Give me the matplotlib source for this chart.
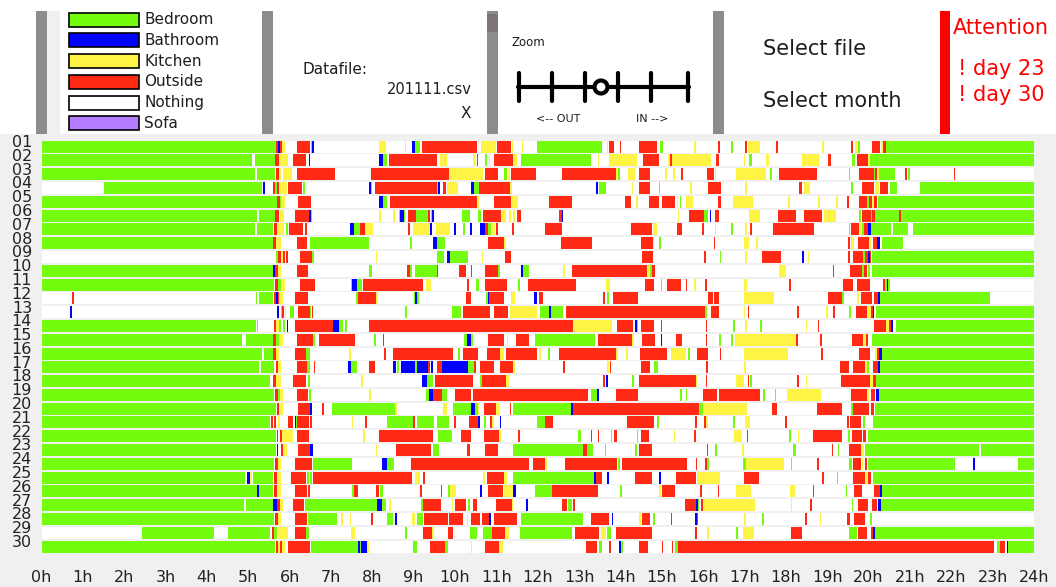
import matplotlib
matplotlib.use("Agg")
import matplotlib.pyplot as plt
import matplotlib.transforms as mtransforms
from matplotlib.patches import Rectangle, Circle

# rooms shown in the legend, in order
rooms = ["Bedroom", "Bathroom", "Kitchen", "Outside", "Nothing", "Sofa"]
room_colors = ["#74fc0f", "#0000ff", "#fff445", "#ff2914", "#ffffff", "#b47cff"]
codes = {"B": "Bedroom", "T": "Bathroom", "K": "Kitchen", "O": "Outside", "N": "Nothing", "S": "Sofa"}

days = ["%02d" % i for i in range(1, 31)]
hours = list(range(25))
hour_labels = ["%dh" % h for h in hours]
datafile = "201111.csv"
attention_days = [23, 30]

# (start hour, end hour, room code) per day; gaps are "Nothing"
d01 = [(0,5.67,'B'),(5.67,5.72,'O'),(5.72,5.76,'T'),(5.76,5.82,'O'),(5.82,5.9,'K'),(6.17,6.5,'O'),(6.51,6.53,'B'),(6.53,6.6,'T'),
       (8.17,8.33,'K'),(8.78,8.82,'K'),(8.96,9.02,'T'),(9.02,9.15,'B'),(9.19,10.52,'O'),(10.62,10.99,'K'),(11.02,11.36,'O'),
       (11.37,11.4,'K'),(11.62,11.65,'K'),(11.99,13.55,'B'),(13.67,13.71,'K'),(13.72,13.85,'O'),(13.98,14.02,'O'),(14.46,14.89,'O'),
       (14.96,15.02,'B'),(15.79,15.83,'K'),(16.35,16.41,'O'),(16.68,16.72,'B'),(17.02,17.06,'O'),(17.09,17.38,'K'),(17.76,17.8,'O'),
       (18.88,18.92,'K'),(19.58,19.62,'O'),(19.68,19.74,'K'),(19.74,19.8,'B'),(20.08,20.28,'O'),(20.3,20.35,'K'),(20.35,20.42,'O'),
       (20.42,24,'B')]
d02 = [(0,5.1,'B'),(5.16,5.65,'B'),(5.65,5.75,'O'),(5.75,5.96,'K'),(6.09,6.4,'O'),(6.46,6.49,'T'),(8.15,8.27,'T'),(8.27,8.36,'B'),
       (8.4,9.56,'O'),(9.64,9.8,'K'),(10.43,10.51,'K'),(10.52,10.55,'O'),(10.73,10.78,'B'),(10.82,10.85,'K'),(10.93,11.4,'O'),
       (11.4,11.51,'K'),(11.59,13.28,'B'),(13.45,13.48,'K'),(13.72,14.39,'K'),(14.55,14.92,'O'),(15.15,15.2,'K'),(15.2,15.25,'O'),
       (15.25,16.18,'K'),(16.31,16.38,'O'),(16.98,17.02,'K'),(17.11,17.17,'B'),(17.53,17.58,'K'),(18.38,18.81,'K'),(19.01,19.08,'O'),
       (19.6,19.66,'B'),(19.71,19.99,'O'),(19.99,20.04,'K'),(20.04,24,'B')]
d03 = [(0,5.16,'B'),(5.2,5.65,'B'),(5.68,5.74,'O'),(5.74,5.78,'K'),(5.85,6.06,'K'),(6.17,7.1,'O'),(7.96,9.86,'O'),(9.86,10.68,'K'),
       (10.73,11.05,'O'),(11.19,11.25,'B'),(11.28,11.32,'K'),(11.36,11.95,'O'),(12.59,13.89,'O'),(13.89,13.94,'K'),(13.94,14.0,'B'),
       (14.19,14.35,'K'),(14.46,14.72,'O'),(15.08,15.12,'K'),(15.28,15.32,'K'),(15.46,15.52,'O'),(16.09,16.25,'O'),(16.28,16.32,'K'),
       (16.79,17.51,'K'),(17.62,17.66,'B'),(17.84,18.75,'O'),(19.52,19.55,'B'),(19.78,20.12,'O'),(20.12,20.16,'B'),(20.16,20.2,'O'),
       (20.2,20.26,'K'),(20.26,20.64,'B'),(20.88,20.92,'O'),(20.96,21.0,'B'),(22.06,22.1,'O')]
d04 = [(1.5,5.33,'B'),(5.35,5.4,'T'),(5.6,5.65,'O'),(5.65,5.7,'B'),(5.7,5.75,'O'),(5.75,5.94,'K'),(5.96,6.29,'O'),(6.32,6.37,'B'),
       (7.93,7.96,'T'),(7.96,7.99,'B'),(8.06,9.56,'O'),(9.56,9.6,'B'),(9.6,9.64,'T'),(9.72,9.78,'O'),(9.8,10.06,'K'),(10.39,10.46,'T'),
       (10.46,10.59,'B'),(10.59,11.33,'O'),(11.33,11.37,'K'),(13.42,13.46,'T'),(13.49,13.65,'B'),(14.27,14.31,'K'),(14.46,14.72,'O'),
       (14.92,14.96,'B'),(15.69,15.73,'K'),(16.12,16.43,'O'),(17.01,17.05,'K'),(18.32,18.38,'O'),(18.45,18.58,'K'),(19.58,19.62,'B'),
       (19.85,20.12,'O'),(20.15,20.25,'K'),(20.28,20.48,'O'),(20.51,20.68,'B'),(21.24,24,'B')]
d05 = [(0,5.7,'B'),(5.7,5.76,'O'),(5.76,5.8,'B'),(5.8,5.9,'K'),(6.2,6.52,'O'),(8.15,8.27,'T'),(8.27,8.36,'B'),(8.43,10.52,'O'),
       (10.54,10.58,'K'),(10.93,11.36,'O'),(11.36,11.52,'K'),(12.28,12.82,'O'),(14.12,14.25,'O'),(14.38,14.42,'K'),(14.69,14.92,'O'),
       (15.01,15.32,'O'),(15.36,15.4,'K'),(15.44,15.47,'B'),(15.59,15.76,'K'),(16.35,16.42,'O'),(16.72,17.21,'K'),(18.05,18.09,'K'),
       (18.78,18.82,'K'),(19.21,19.25,'K'),(19.49,19.52,'O'),(19.78,19.97,'O'),(19.97,20.02,'B'),(20.02,20.08,'O'),(20.08,20.12,'K'),
       (20.12,20.2,'O'),(20.22,24,'B')]
d06 = [(0,5.22,'B'),(5.27,5.65,'B'),(5.65,5.75,'O'),(5.77,5.86,'K'),(6.13,6.48,'O'),(6.48,6.51,'T'),(6.51,6.55,'B'),(8.17,8.21,'K'),
       (8.51,8.55,'K'),(8.64,8.68,'B'),(8.68,8.76,'T'),(8.76,8.8,'B'),(8.86,9.06,'O'),(9.06,9.35,'B'),(9.35,9.39,'O'),(9.41,9.45,'B'),
       (9.45,9.49,'T'),(10.17,10.36,'B'),(10.56,10.62,'B'),(10.68,11.11,'O'),(11.11,11.23,'K'),(11.31,11.35,'K'),(11.4,11.44,'K'),
       (11.49,11.59,'O'),(12.52,12.58,'O'),(12.58,12.62,'T'),(15.38,15.42,'K'),(15.65,16.02,'O'),(16.02,16.06,'B'),(16.08,16.12,'B'),
       (16.16,16.2,'T'),(16.29,16.38,'O'),(17.1,17.38,'K'),(17.82,18.25,'O'),(18.45,18.88,'O'),(18.91,19.21,'K'),(19.78,19.82,'B'),
       (19.85,20.05,'O'),(20.05,20.09,'B'),(20.09,20.15,'O'),(20.16,20.74,'B'),(20.74,20.78,'O'),(20.78,24,'B')]
d07 = [(0,5.16,'B'),(5.2,5.59,'B'),(5.63,5.7,'O'),(5.7,5.86,'K'),(5.92,5.96,'B'),(5.99,6.33,'O'),(6.38,6.42,'O'),(7.46,7.56,'T'),
       (7.56,7.7,'B'),(7.7,7.83,'O'),(7.83,8.01,'K'),(8.86,8.9,'O'),(8.99,9.4,'K'),(9.4,9.44,'T'),(9.53,9.88,'K'),(9.98,10.02,'T'),
       (10.2,10.24,'B'),(10.37,10.41,'T'),(10.6,10.73,'T'),(10.73,10.8,'O'),(10.8,10.86,'B'),(10.86,10.97,'K'),(10.99,11.03,'O'),
       (11.38,11.42,'O'),(12.18,12.58,'O'),(14.26,14.76,'O'),(14.78,14.88,'K'),(15.36,15.48,'O'),(15.98,16.02,'O'),(16.28,16.32,'K'),
       (16.68,16.72,'B'),(17.01,17.05,'K'),(17.14,17.18,'O'),(17.68,18.68,'O'),(19.52,19.56,'B'),(19.58,19.78,'O'),(19.78,19.84,'K'),
       (19.84,19.88,'B'),(19.88,19.98,'O'),(19.98,20.05,'T'),(20.05,20.54,'B'),(20.59,20.95,'B'),(21.08,24,'B')]
d08 = [(0,5.6,'B'),(5.6,5.68,'O'),(5.68,5.8,'K'),(6.17,6.43,'O'),(6.49,7.93,'B'),(8.91,8.95,'B'),(9.47,9.57,'T'),(9.57,9.75,'B'),
       (10.79,11.18,'O'),(11.18,11.23,'K'),(12.56,13.31,'O'),(14.49,14.78,'O'),(14.78,14.82,'K'),(14.94,14.98,'B'),(16.25,16.29,'O'),
       (16.99,17.1,'K'),(17.28,17.32,'K'),(19.51,19.55,'O'),(19.58,19.64,'K'),(19.75,20.0,'O'),(20.02,20.06,'K'),(20.1,20.2,'O'),
       (20.2,20.28,'T'),(20.32,20.84,'B')]
d09 = [(5.67,5.72,'B'),(5.72,5.8,'O'),(5.8,5.84,'K'),(5.84,5.9,'O'),(5.92,5.95,'O'),(6.24,6.53,'O'),(6.55,6.59,'B'),(8.08,8.12,'K'),
       (9.56,9.74,'B'),(9.81,9.89,'T'),(9.89,10.32,'B'),(10.64,10.68,'K'),(11.22,11.36,'O'),(14.52,14.78,'O'),(16.03,16.07,'O'),
       (16.4,16.44,'B'),(17.01,17.05,'K'),(17.42,17.88,'O'),(18.4,18.44,'T'),(18.53,18.57,'K'),(19.51,19.55,'O'),(19.62,19.87,'O'),
       (19.87,19.92,'B'),(19.92,19.98,'O'),(19.98,20.03,'T'),(20.03,20.06,'O'),(20.08,24,'B')]
d10 = [(0,5.6,'B'),(5.6,5.64,'T'),(5.65,5.72,'O'),(5.72,5.8,'K'),(6.17,6.45,'O'),(7.93,7.99,'B'),(8.83,8.9,'O'),(8.9,8.97,'B'),
       (9.02,9.56,'B'),(9.57,9.6,'O'),(10.09,10.27,'O'),(10.38,10.42,'O'),(10.73,11.05,'O'),(11.05,11.09,'B'),(11.59,11.65,'T'),
       (11.65,11.78,'B'),(12.61,12.65,'K'),(12.82,14.65,'O'),(14.65,14.72,'K'),(14.72,14.76,'B'),(14.76,14.83,'O'),(17.83,18.0,'K'),
       (19.13,19.17,'O'),(19.55,19.84,'O'),(19.84,19.9,'B'),(19.9,19.96,'O'),(19.98,20.03,'B'),(20.08,24,'B')]
d11 = [(0,5.62,'B'),(5.65,5.72,'O'),(5.72,5.78,'B'),(5.78,5.88,'K'),(6.24,6.62,'O'),(7.49,7.51,'B'),(7.51,7.62,'T'),(7.62,7.74,'B'),
       (7.77,9.22,'O'),(9.3,9.41,'K'),(10.3,10.34,'O'),(10.5,10.59,'B'),(10.73,11.25,'O'),(11.53,11.57,'B'),(11.76,12.92,'O'),
       (13.65,13.75,'K'),(14.6,14.81,'O'),(14.97,15.01,'B'),(15.12,15.46,'O'),(15.58,15.62,'O'),(15.78,15.82,'K'),(16.05,16.09,'O'),
       (16.98,17.05,'K'),(18.08,18.12,'O'),(19.38,19.62,'O'),(19.72,20.04,'O'),(20.35,20.4,'O'),(20.4,20.44,'B'),(20.44,20.48,'T'),
       (20.48,20.52,'B')]
d12 = [(0.74,0.78,'O'),(5.18,5.22,'B'),(5.27,5.59,'B'),(5.62,5.67,'O'),(5.67,5.71,'T'),(5.71,5.74,'O'),(5.74,5.84,'K'),(6.13,6.45,'O'),
       (7.6,7.66,'B'),(7.66,8.1,'O'),(8.1,8.14,'K'),(9.0,9.04,'B'),(9.04,9.09,'T'),(9.09,9.12,'B'),(10.27,10.38,'O'),(10.76,10.8,'B'),
       (10.8,10.83,'T'),(10.83,11.18,'O'),(11.35,11.45,'K'),(11.91,11.98,'T'),(12.02,12.12,'O'),(13.57,13.63,'O'),(13.68,13.72,'B'),
       (13.82,14.42,'O'),(16.12,16.23,'O'),(16.25,16.38,'O'),(16.99,17.71,'K'),(19.01,19.35,'O'),(19.35,19.4,'B'),(19.73,19.78,'K'),
       (19.81,20.08,'O'),(20.14,20.22,'O'),(20.22,20.28,'T'),(20.28,22.94,'B')]
d13 = [(0.69,0.73,'T'),(5.7,5.75,'T'),(5.78,5.82,'B'),(5.82,5.86,'O'),(5.88,5.92,'K'),(6.0,6.11,'B'),(6.2,6.49,'O'),(6.49,6.52,'B'),
       (6.53,6.57,'O'),(8.8,8.84,'B'),(9.93,10.15,'B'),(10.19,10.85,'O'),(10.93,11.29,'O'),(11.33,11.99,'K'),(12.06,12.26,'B'),
       (12.28,12.33,'T'),(12.33,12.62,'B'),(12.68,16.05,'O'),(16.05,16.1,'B'),(16.19,16.38,'O'),(16.98,17.02,'K'),(17.08,17.12,'O'),
       (18.28,18.32,'O'),(18.98,19.02,'K'),(19.14,19.18,'O'),(19.53,19.57,'B'),(19.69,19.97,'O'),(19.97,20.05,'K'),(20.05,20.1,'O'),
       (20.1,20.14,'T'),(20.18,24,'B')]
d14 = [(0,5.18,'B'),(5.2,5.24,'B'),(5.62,5.68,'O'),(5.68,5.74,'K'),(5.74,5.8,'B'),(5.85,5.88,'B'),(5.93,5.97,'T'),(6.13,7.06,'O'),
       (7.06,7.2,'T'),(7.2,7.3,'B'),(7.35,7.39,'B'),(7.93,12.85,'O'),(12.85,13.79,'K'),(13.91,14.31,'O'),(14.35,14.39,'T'),
       (14.39,14.43,'B'),(14.49,14.81,'O'),(14.97,15.01,'O'),(16.06,16.1,'O'),(16.73,16.77,'B'),(17.01,17.05,'K'),(17.38,17.42,'B'),
       (18.48,18.52,'K'),(18.77,18.81,'O'),(20.12,20.42,'O'),(20.42,20.5,'K'),(20.5,20.55,'O'),(20.55,20.6,'T'),(20.66,24,'B')]
d15 = [(0,4.85,'B'),(4.94,5.6,'B'),(5.6,5.68,'O'),(5.68,5.74,'B'),(5.74,5.84,'K'),(6.17,6.56,'O'),(6.56,6.62,'B'),(6.7,7.58,'O'),
       (8.05,8.09,'B'),(8.25,8.29,'O'),(10.22,10.28,'B'),(10.28,10.38,'T'),(10.38,10.44,'B'),(10.79,11.18,'O'),(11.25,11.29,'K'),
       (11.47,11.78,'O'),(11.93,13.39,'B'),(13.45,14.29,'O'),(14.29,14.33,'K'),(14.53,14.84,'O'),(14.97,15.01,'T'),(15.34,15.48,'O'),
       (16.06,16.1,'O'),(16.38,16.44,'B'),(16.68,16.72,'B'),(16.76,18.25,'K'),(18.25,18.29,'O'),(18.83,18.88,'O'),(19.6,19.87,'O'),
       (19.87,19.93,'K'),(19.93,19.99,'O'),(20.08,24,'B')]
d16 = [(0,5.33,'B'),(5.37,5.59,'B'),(5.6,5.68,'O'),(5.68,5.75,'K'),(6.13,6.4,'O'),(6.4,6.5,'B'),(7.44,7.48,'K'),(8.29,8.33,'O'),
       (8.49,9.96,'O'),(10.08,10.12,'B'),(10.19,10.56,'O'),(10.77,11.09,'O'),(11.09,11.19,'K'),(11.23,11.99,'O'),(12.03,12.07,'K'),
       (12.25,12.29,'B'),(12.52,13.89,'O'),(13.89,13.93,'K'),(14.14,14.18,'K'),(14.47,15.12,'O'),(15.22,15.58,'K'),(15.64,15.68,'B'),
       (15.85,16.11,'O'),(16.4,16.44,'O'),(16.99,18.04,'K'),(18.85,18.9,'O'),(19.78,20.04,'O'),(20.16,20.2,'K'),(20.2,20.26,'O'),
       (20.26,20.33,'T'),(20.33,24,'B')]
d17 = [(0,5.26,'B'),(5.3,5.62,'B'),(5.66,5.72,'O'),(5.72,5.8,'K'),(6.17,6.43,'O'),(6.43,6.49,'B'),(6.58,6.62,'O'),(7.42,7.49,'T'),
       (7.49,7.64,'B'),(7.93,8.07,'O'),(8.49,8.57,'T'),(8.6,8.65,'B'),(8.69,9.03,'T'),(9.03,9.07,'B'),(9.09,9.35,'T'),(9.35,9.4,'O'),
       (9.42,9.46,'T'),(9.56,9.68,'O'),(9.68,10.32,'T'),(10.32,10.46,'B'),(10.46,10.5,'O'),(10.6,10.93,'O'),(11.09,11.4,'O'),
       (11.4,11.44,'K'),(12.61,12.65,'O'),(13.68,13.72,'K'),(13.74,13.78,'O'),(14.49,14.72,'O'),(14.81,14.9,'B'),(16.08,16.12,'O'),
       (16.98,17.03,'K'),(19.3,19.52,'O'),(19.62,19.91,'O'),(19.91,19.96,'K'),(19.96,20.02,'B'),(20.1,20.22,'O'),(20.22,20.28,'T'),
       (20.28,24,'B')]
d18 = [(0,5.53,'B'),(5.6,5.68,'O'),(5.68,5.8,'K'),(6.09,6.4,'O'),(6.45,6.49,'B'),(7.72,7.78,'K'),(9.19,9.31,'T'),(9.31,9.46,'B'),
       (9.52,10.43,'O'),(10.6,10.64,'B'),(10.65,11.23,'O'),(11.23,11.31,'K'),(13.58,13.62,'O'),(13.66,13.7,'T'),(14.28,14.32,'B'),
       (14.46,15.82,'O'),(15.82,15.86,'K'),(16.06,16.1,'O'),(16.79,16.99,'K'),(17.08,17.12,'O'),(17.14,17.18,'B'),(18.28,18.32,'O'),
       (18.48,18.52,'K'),(19.33,19.71,'O'),(19.73,20.04,'O'),(20.04,20.1,'K'),(20.1,20.18,'O'),(20.18,24,'B')]
d19 = [(0,5.62,'B'),(5.65,5.72,'O'),(5.72,5.76,'B'),(5.76,5.84,'K'),(6.17,6.45,'O'),(6.47,6.51,'B'),(7.93,7.97,'K'),(9.3,9.36,'B'),
       (9.36,9.46,'T'),(9.46,9.69,'O'),(9.69,9.8,'B'),(9.99,10.38,'O'),(10.43,13.22,'O'),(13.28,13.44,'B'),(13.44,13.47,'T'),
       (13.89,14.42,'O'),(15.45,15.49,'B'),(15.58,15.62,'B'),(15.99,16.33,'O'),(16.38,17.38,'O'),(17.45,17.49,'B'),(17.73,17.77,'B'),
       (18.02,18.85,'K'),(19.58,19.97,'O'),(19.97,20.02,'K'),(20.05,20.15,'O'),(20.17,20.25,'T'),(20.25,24,'B')]
d20 = [(0,5.67,'B'),(5.69,5.75,'O'),(5.75,5.83,'K'),(6.2,6.49,'O'),(6.49,6.55,'T'),(6.78,6.82,'O'),(7.02,8.55,'B'),(8.55,8.59,'K'),
       (9.7,9.81,'K'),(9.96,10.39,'B'),(10.39,10.49,'T'),(10.49,10.55,'B'),(10.55,10.58,'K'),(10.69,10.99,'O'),(10.99,11.09,'K'),
       (11.32,11.36,'O'),(11.41,12.8,'B'),(12.8,12.86,'T'),(12.86,15.91,'O'),(15.91,16.0,'B'),(16.0,17.06,'K'),(17.66,17.78,'O'),
       (18.75,19.35,'O'),(19.58,19.63,'B'),(19.63,20.02,'O'),(20.07,20.13,'O'),(20.16,24,'B')]
d21 = [(0,5.53,'B'),(5.55,5.59,'O'),(5.63,5.68,'O'),(5.72,5.76,'K'),(5.97,6.09,'O'),(6.12,6.15,'T'),(6.15,6.19,'B'),(6.19,6.48,'O'),
       (6.5,6.54,'O'),(7.5,7.54,'K'),(7.82,7.86,'O'),(8.36,8.99,'B'),(8.99,9.03,'O'),(9.09,9.48,'B'),(9.56,9.86,'B'),(9.98,10.02,'O'),
       (10.33,10.56,'O'),(10.56,10.6,'T'),(10.71,10.75,'B'),(10.84,10.9,'O'),(10.9,10.94,'K'),(11.08,11.12,'T'),(11.99,12.18,'B'),
       (12.18,12.38,'O'),(14.15,14.82,'O'),(14.89,14.93,'B'),(15.81,15.85,'O'),(16.03,16.07,'O'),(16.07,16.11,'K'),(16.73,16.77,'B'),
       (17.0,17.13,'K'),(17.98,18.02,'O'),(19.48,19.52,'O'),(19.54,19.81,'O'),(19.86,19.91,'B'),(20.1,24,'B')]
d22 = [(0,5.67,'B'),(5.69,5.73,'O'),(5.77,5.82,'O'),(5.82,6.07,'K'),(6.19,6.46,'O'),(7.78,7.82,'K'),(8.15,9.46,'O'),(9.6,9.93,'B'),
       (10.14,10.39,'O'),(10.69,11.07,'O'),(11.07,11.11,'K'),(11.53,11.57,'O'),(12.98,13.04,'B'),(13.29,13.32,'O'),(13.45,13.48,'O'),
       (13.77,13.8,'B'),(13.85,13.91,'O'),(14.39,14.43,'B'),(14.49,14.68,'O'),(15.3,15.33,'K'),(15.79,15.82,'O'),(16.75,16.93,'K'),
       (17.05,17.09,'O'),(18.08,18.12,'B'),(18.29,18.32,'K'),(18.65,19.35,'O'),(19.51,19.55,'B'),(19.59,19.84,'O'),(19.87,19.94,'O'),
       (19.98,24,'B')]
d23 = [(0,5.68,'B'),(5.69,5.72,'T'),(5.78,5.84,'O'),(5.84,5.93,'K'),(6.2,6.49,'O'),(6.49,6.56,'T'),(8.09,8.12,'K'),(8.57,9.42,'O'),
       (9.46,9.61,'B'),(10.3,10.35,'O'),(10.73,11.05,'O'),(11.4,13.09,'B'),(13.09,13.18,'O'),(13.2,13.34,'B'),(13.62,13.65,'B'),
       (14.35,14.39,'B'),(14.46,14.76,'O'),(16.09,16.12,'O'),(16.29,16.33,'B'),(16.95,16.98,'K'),(18.18,18.24,'B'),(19.11,19.15,'O'),
       (19.25,19.28,'B'),(19.52,19.81,'O'),(19.81,19.88,'K'),(19.92,22.68,'B'),(22.71,24,'B')]
d24 = [(0,5.62,'B'),(5.65,5.72,'O'),(5.72,5.8,'K'),(6.13,6.53,'O'),(6.56,7.5,'B'),(8.23,8.35,'T'),(8.35,8.52,'B'),(8.93,11.79,'O'),
       (11.89,12.18,'O'),(12.18,12.22,'K'),(12.66,13.91,'O'),(13.95,13.99,'B'),(14.03,15.62,'O'),(15.82,15.86,'O'),(16.05,16.1,'O'),
       (16.1,16.15,'B'),(16.96,17.03,'B'),(17.03,17.96,'K'),(18.12,18.16,'B'),(18.75,18.79,'O'),(19.52,19.6,'B'),(19.62,19.81,'O'),
       (19.83,19.87,'K'),(19.91,19.97,'O'),(19.98,22.1,'B'),(22.53,22.58,'T'),(23.61,24,'B')]
d25 = [(0,4.93,'B'),(4.96,5.03,'T'),(5.05,5.08,'K'),(5.11,5.59,'B'),(5.62,5.7,'O'),(5.7,5.8,'K'),(6.03,6.4,'O'),(6.43,6.47,'B'),
       (6.5,6.54,'B'),(6.56,8.95,'O'),(9.02,9.15,'K'),(9.23,9.27,'O'),(10.68,10.72,'K'),(10.77,11.18,'O'),(11.18,11.25,'K'),
       (11.41,13.36,'B'),(13.36,13.4,'T'),(13.41,13.55,'O'),(13.68,13.72,'T'),(14.35,14.76,'O'),(14.93,14.97,'T'),(15.34,15.82,'O'),
       (15.86,16.41,'K'),(16.99,17.36,'O'),(18.88,18.92,'O'),(19.23,19.26,'B'),(19.62,19.91,'O'),(19.91,19.98,'K'),(19.98,20.07,'O'),
       (20.1,24,'B')]
d26 = [(0,5.22,'B'),(5.22,5.27,'T'),(5.27,5.6,'B'),(5.62,5.7,'O'),(5.7,5.78,'K'),(6.13,6.43,'O'),(6.45,6.49,'O'),(7.5,7.56,'B'),
       (7.56,7.66,'O'),(8.09,8.17,'O'),(8.19,8.25,'B'),(9.15,9.19,'O'),(9.65,9.69,'O'),(9.84,9.88,'B'),(9.88,10.02,'K'),(10.6,10.65,'T'),
       (10.8,11.15,'O'),(11.19,11.41,'K'),(11.41,11.47,'T'),(11.93,12.35,'B'),(12.35,13.45,'O'),(13.99,14.03,'B'),(14.94,14.97,'K'),
       (15.01,15.32,'O'),(15.92,15.98,'O'),(16.35,16.39,'O'),(16.79,17.15,'K'),(18.09,18.22,'K'),(18.65,18.69,'O'),(19.45,19.49,'B'),
       (19.65,19.85,'O'),(20.14,20.28,'O'),(20.28,20.33,'T'),(20.33,24,'B')]
d27 = [(0,4.9,'B'),(4.94,5.59,'B'),(5.59,5.7,'T'),(5.7,5.76,'O'),(5.76,5.84,'K'),(6.09,6.35,'O'),(6.37,8.11,'B'),(8.12,8.23,'T'),
       (8.23,8.33,'B'),(8.41,8.44,'K'),(9.17,9.23,'B'),(9.23,9.65,'O'),(9.92,9.96,'K'),(9.99,10.26,'O'),(10.32,10.36,'B'),
       (10.44,10.54,'O'),(10.99,11.37,'O'),(11.37,11.41,'K'),(11.72,11.77,'T'),(12.58,12.7,'O'),(12.74,12.82,'B'),(12.86,12.9,'O'),
       (15.55,15.83,'O'),(15.83,15.87,'T'),(15.87,15.91,'B'),(15.94,15.99,'O'),(15.99,17.25,'K'),(18.12,18.15,'K'),(18.59,18.63,'O'),
       (19.59,19.63,'B'),(19.75,19.99,'O'),(20.08,20.2,'O'),(20.23,20.3,'T'),(20.3,24,'B')]
d28 = [(0,5.62,'B'),(5.65,5.72,'O'),(5.72,5.8,'K'),(6.13,6.43,'O'),(6.45,7.15,'B'),(7.24,7.29,'K'),(7.46,7.49,'K'),(7.96,8.02,'O'),
       (8.36,8.49,'B'),(8.56,8.59,'T'),(8.97,9.03,'K'),(9.09,9.23,'B'),(9.25,9.84,'O'),(9.86,10.19,'O'),(10.28,10.32,'K'),
       (10.38,10.6,'O'),(10.66,10.83,'O'),(10.83,10.88,'T'),(10.93,11.49,'O'),(11.59,13.09,'B'),(13.28,13.72,'O'),(13.79,13.82,'T'),
       (14.46,14.49,'K'),(14.52,14.72,'O'),(14.78,14.84,'B'),(15.22,15.25,'O'),(15.8,15.84,'T'),(15.84,15.88,'O'),(16.99,17.03,'K'),
       (17.42,17.46,'B'),(18.47,18.5,'O'),(18.83,18.86,'K'),(19.49,19.54,'O'),(19.65,19.91,'O'),(20.04,20.08,'B')]
d29 = [(2.43,4.16,'B'),(4.5,5.53,'B'),(5.57,5.62,'O'),(5.62,5.7,'B'),(5.73,5.97,'K'),(6.13,6.4,'O'),(6.4,6.46,'B'),(7.48,7.58,'K'),
       (8.79,8.83,'B'),(9.23,9.44,'O'),(9.44,9.48,'K'),(9.83,9.94,'O'),(10.36,10.52,'B'),(10.68,10.89,'B'),(10.89,11.22,'O'),
       (11.22,11.31,'K'),(11.56,12.82,'B'),(12.89,13.48,'O'),(13.52,13.65,'K'),(13.67,13.77,'B'),(13.89,14.76,'O'),(15.8,15.84,'O'),
       (16.09,16.15,'K'),(16.8,16.85,'B'),(16.96,17.24,'K'),(18.12,18.38,'O'),(19.53,19.73,'B'),(19.75,19.96,'O'),(20.06,20.11,'O'),
       (20.11,20.16,'T'),(20.16,24,'B')]
d30 = [(0,5.64,'B'),(5.66,5.72,'O'),(5.72,5.76,'K'),(5.76,5.82,'O'),(5.82,5.9,'K'),(5.97,6.49,'O'),(6.51,7.66,'B'),(7.66,7.7,'T'),
       (7.7,7.73,'B'),(7.73,7.88,'T'),(7.88,7.91,'K'),(8.99,9.07,'B'),(9.4,9.76,'O'),(9.76,9.82,'B'),(10.38,10.42,'K'),(10.73,11.07,'O'),
       (11.07,11.17,'K'),(13.16,13.43,'O'),(13.48,13.55,'B'),(13.73,13.77,'O'),(13.97,14.01,'T'),(14.01,14.07,'B'),(14.46,14.67,'O'),
       (15.0,15.04,'O'),(15.25,15.28,'O'),(15.32,15.38,'B'),(15.38,23.04,'O'),(23.1,23.17,'B'),(23.18,23.3,'O'),(23.34,23.37,'T'),
       (23.37,24,'B')]

schedule = [d01, d02, d03, d04, d05, d06, d07, d08, d09, d10, d11, d12, d13, d14, d15,
            d16, d17, d18, d19, d20, d21, d22, d23, d24, d25, d26, d27, d28, d29, d30]

color_of = dict(zip(rooms, room_colors))
W, H = 1056, 587
fig = plt.figure(figsize=(W / 100, H / 100), dpi=100)
fig.patch.set_facecolor("#f0f0f0")

# top control panel, drawn in pixel coordinates
panel = fig.add_axes([0, 0, 1, 1])
panel.set_xlim(0, W)
panel.set_ylim(H, 0)
panel.axis("off")
panel.add_patch(Rectangle((0, 0), W, 134, color="white", lw=0))
for x in [36, 262, 487, 713]:
    panel.add_patch(Rectangle((x, 11), 10.5, 123, color="#8c8c8c", lw=0))
panel.add_patch(Rectangle((47, 11), 13, 123, color="#f0f0f0", lw=0))
panel.add_patch(Rectangle((487, 14), 10.5, 18, color="#7d7474", lw=0))
panel.add_patch(Rectangle((940, 11), 10, 123, color="#ff0000", lw=0))

txt = "#1e1e1e"
for i, (room, col) in enumerate(zip(rooms, room_colors)):
    yc = 19.7 + i * 20.7
    panel.add_patch(Rectangle((69, yc - 7), 70, 14, facecolor=col, edgecolor="black", lw=1.2))
    panel.text(144, yc, room, fontsize=11, color=txt, va="center", ha="left")

panel.text(303, 69, "Datafile:", fontsize=11, color=txt, va="center", ha="left")
panel.text(472, 90, datafile, fontsize=10.5, color=txt, va="center", ha="right")
panel.text(471, 114, "X", fontsize=11, color=txt, va="center", ha="right")

# zoom slider
panel.text(512, 43, "Zoom", fontsize=8.5, color=txt, va="center", ha="left")
panel.plot([518, 689], [87, 87], color="black", lw=3, solid_capstyle="round")
for x in [519, 552, 585, 618, 651, 688]:
    panel.plot([x, x], [73, 101], color="black", lw=3, solid_capstyle="round")
panel.add_patch(Circle((601, 87), 6.5, facecolor="white", edgecolor="black", lw=3, zorder=3))
panel.text(558, 119, "<-- OUT", fontsize=8, color=txt, va="center", ha="center")
panel.text(652, 119, "IN -->", fontsize=8, color=txt, va="center", ha="center")

panel.text(763, 49, "Select file", fontsize=15, color=txt, va="center", ha="left")
panel.text(763, 101, "Select month", fontsize=15, color=txt, va="center", ha="left")
panel.text(953, 28, "Attention", fontsize=15, color="#ff0000", va="center", ha="left")
for j, d in enumerate(attention_days):
    panel.text(958, 69 + j * 26, "! day %d" % d, fontsize=15, color="#ff0000", va="center", ha="left")

# timeline
ax = fig.add_axes([41.5 / W, (H - 553.5) / H, 992.5 / W, 413.7 / H])
ax.set_facecolor("#f0f0f0")
ax.set_xlim(0, 24)
ax.set_ylim(30.5, 0.5)
for s in ax.spines.values():
    s.set_visible(False)

bar_h = 0.87
for i, events in enumerate(schedule, start=1):
    ax.broken_barh([(0, 24)], (i - bar_h / 2, bar_h), facecolors="white", lw=0)
    spans = [(s, e - s) for s, e, c in events]
    cols = [color_of[codes[c]] for s, e, c in events]
    ax.broken_barh(spans, (i - bar_h / 2, bar_h), facecolors=cols, lw=0)

ax.set_yticks([])
ax.set_xticks(hours)
ax.set_xticklabels(hour_labels, fontsize=11.5, color="#222222")
ax.tick_params(axis="x", length=0, pad=12)

trans = mtransforms.blended_transform_factory(ax.transAxes, ax.transData)
for i, lab in enumerate(days, start=1):
    ax.text(-9.5 / 992.5, i - 0.3, lab, transform=trans, fontsize=11.5,
            color="#222222", ha="right", va="center")

fig.savefig("out.png", dpi=100, facecolor=fig.get_facecolor())
